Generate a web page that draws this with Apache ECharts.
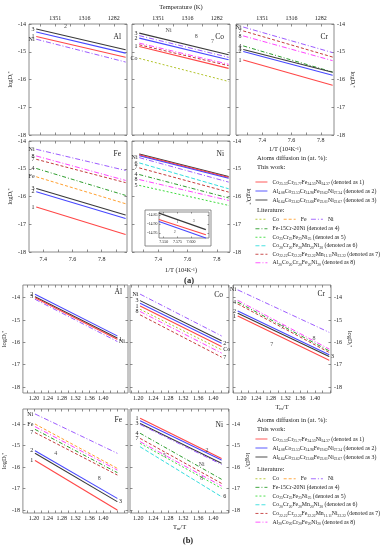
<!DOCTYPE html>
<html><head><meta charset="utf-8">
<script src="https://cdn.jsdelivr.net/npm/echarts@6/dist/echarts.min.js"></script>
<style>html,body{margin:0;padding:0;background:#fff}#c{width:383px;height:550px}</style>
</head><body><div id="c"></div>
<script>
// ===================== DATA =====================
// x extents of the measured Arrhenius lines
const xA = [7.27, 7.88];            // 1/T (10^4 K^-1), panel (a)
const xInset = [7.5414, 7.627];
const xB_AlFe = [1.203, 1.44];      // Tm/T, panel (b)
const xB_CoNi = [1.205, 1.422];
const xB_Cr = [1.191, 1.438];

// tick label values
const aXLabels = [7.4, 7.6, 7.8];
const aTempLabels = [7.4, 7.6, 7.8];          // shown as T = 1e4/x -> 1351, 1316, 1282
const yLabels = [-18, -17, -16, -15, -14];
const bXLabels = [1.20, 1.24, 1.28, 1.32, 1.36, 1.40];
const insetXLabels = [7.55, 7.575, 7.6];
const insetYLabels = [-14.95, -14.9, -14.85];

// ---- (a) Al ----
const aAlKeys  = ['w3', 'w2', 'w1', 'Ni'];
const aAlStart = [-14.18, -14.29, -14.45, -14.55];
const aAlEnd   = [-14.93, -15.05, -15.20, -15.37];
const aAlLeft  = ['3', '', '1', 'Ni'];
const aAlNotes = [['2', 7.47, -14.10]];
// ---- (a) Co ----
const aCoKeys  = ['w3', 'Ni', 'w2', 'l8', 'l7', 'w1', 'Co'];
const aCoStart = [-14.33, -14.42, -14.51, -14.69, -14.75, -14.81, -15.24];
const aCoEnd   = [-15.11, -15.20, -15.29, -15.45, -15.50, -15.60, -16.07];
const aCoLeft  = ['3', '', '2', '', '', '1', 'Co'];
const aCoNotes = [['Ni', 7.47, -14.22], ['8', 7.66, -14.45], ['7', 7.77, -14.62]];
// ---- (a) Cr ----
const aCrKeys  = ['Ni', 'l7', 'l8', 'l4', 'w3', 'w2', 'w1'];
const aCrStart = [-14.11, -14.25, -14.43, -14.79, -14.92, -14.99, -15.30];
const aCrEnd   = [-15.03, -15.19, -15.32, -15.73, -15.74, -15.85, -16.21];
const aCrLeft  = ['Ni', '7', '8', '4', '3', '2', '1'];
// ---- (a) Fe ----
const aFeKeys  = ['Ni', 'l8', 'l7', 'l4', 'Fe', 'w3', 'w2', 'w1'];
const aFeStart = [-14.30, -14.54, -14.66, -14.99, -15.29, -15.71, -15.83, -16.38];
const aFeEnd   = [-15.06, -15.42, -15.50, -15.96, -16.26, -16.67, -16.79, -17.37];
const aFeLeft  = ['Ni', '8', '7', '4', 'Fe', '3', '2', '1'];
// ---- (a) Ni ----
const aNiKeys  = ['w3', 'w1', 'w2', 'Ni', 'l6', 'l7', 'l4', 'l8', 'l5'];
const aNiStart = [-14.47, -14.50, -14.53, -14.60, -14.79, -14.97, -15.21, -15.39, -15.60];
const aNiEnd   = [-15.28, -15.31, -15.34, -15.48, -15.72, -15.84, -16.05, -16.14, -16.32];
const aNiLeft  = ['', '', '', 'Ni', '6', '7', '4', '8', '5'];
// ---- (a) Ni inset ----
const inKeys  = ['w3', 'w1', 'w2'];
const inStart = [-14.841, -14.875, -14.886];
const inEnd   = [-14.930, -14.958, -14.975];
const inNotes = [['3', 7.605, -14.885], ['1', 7.575, -14.888], ['2', 7.57, -14.94]];

// ---- (b) Al ----
const bAlKeys  = ['w2', 'w3', 'w1', 'Ni'];
const bAlStart = [-13.84, -13.96, -14.00, -14.07];
const bAlEnd   = [-15.71, -15.81, -15.86, -15.96];
const bAlLeft  = ['2', '3', '', ''];
const bAlRight = ['', '', '1', 'Ni'];
// ---- (b) Co ----
const bCoKeys  = ['Ni', 'w3', 'w2', 'w1', 'Co', 'l8', 'l7'];
const bCoStart = [-13.84, -14.13, -14.25, -14.37, -14.52, -14.62, -14.77];
const bCoEnd   = [-15.71, -15.93, -16.04, -16.19, -16.33, -16.48, -16.66];
const bCoLeft  = ['Ni', '3', '', '1', '', '8', ''];
const bCoRight = ['', '', '2', '', 'Co', '', '7'];
// ---- (b) Cr ----
const bCrKeys  = ['Ni', 'l8', 'l4', 'l7', 'w2', 'w3', 'w1'];
const bCrStart = [-13.65, -14.12, -14.20, -14.28, -14.60, -14.70, -14.82];
const bCrEnd   = [-15.55, -16.30, -16.38, -16.45, -16.56, -16.63, -16.80];
const bCrLeft  = ['Ni', '', '4', '', '2', '', '1'];
const bCrRight = ['', '', '', '', '', '3', ''];
const bCrNotes = [['8', 1.397, -15.81], ['7', 1.311, -15.32], ['7', 1.283, -16.11]];
// ---- (b) Fe ----
const bFeKeys  = ['Ni', 'Fe', 'l8', 'l4', 'l7', 'w2', 'w3', 'w1'];
const bFeStart = [-13.53, -14.00, -14.12, -14.25, -14.40, -15.24, -15.36, -15.70];
const bFeEnd   = [-15.36, -16.06, -16.14, -16.26, -16.37, -17.46, -17.61, -18.00];
const bFeLeft  = ['Ni', 'Fe', '', '', '7', '2', '', '1'];
const bFeRight = ['', '', '', '', '', '', '3', ''];
const bFeNotes = [['4', 1.263, -15.36], ['8', 1.388, -16.53]];
// ---- (b) Ni ----
const bNiKeys  = ['w1', 'w2', 'w3', 'Ni', 'l4', 'l7', 'l8', 'l5', 'l6'];
const bNiStart = [-13.73, -13.85, -13.97, -14.02, -14.43, -14.67, -14.82, -14.90, -15.06];
const bNiEnd   = [-15.60, -15.67, -15.83, -15.88, -16.57, -16.76, -16.88, -16.99, -17.38];
const bNiLeft  = ['1', '', '3', '', '4', '7', '', '', ''];
const bNiRight = ['', '', '', '', '', '', '', '', '6'];
const bNiNotes = [['2', 1.383, -15.21], ['Ni', 1.369, -15.90], ['8', 1.369, -16.53], ['5', 1.27, -15.44]];

// ===================== STYLE =====================
const FONT = '"Liberation Serif","DejaVu Serif",serif';
const TXT = '#222';
const FRAME = '#707070';
const STY = {
  w1: { color: '#ff4747', type: 'solid', width: 1.1 },
  w2: { color: '#4747ff', type: 'solid', width: 1.1 },
  w3: { color: '#3a3a3a', type: 'solid', width: 1.1 },
  Co: { color: '#b3c42c', type: [2, 2], width: 1 },
  Fe: { color: '#ffa030', type: [3, 2], width: 1 },
  Ni: { color: '#9d5cff', type: [5, 2, 1, 2], width: 1 },
  l4: { color: '#2e9e2e', type: [4, 2, 1, 2], width: 1 },
  l5: { color: '#3ddc3d', type: [2, 2], width: 1 },
  l6: { color: '#35dede', type: [4, 2], width: 1 },
  l7: { color: '#c43c3c', type: [3, 2], width: 1 },
  l8: { color: '#ff45ff', type: [5, 2, 1, 2], width: 1 }
};
const RICH = {
  m: { fontSize: 5.8, fontFamily: FONT, color: TXT },
  s: { fontSize: 3.7, fontFamily: FONT, color: TXT, verticalAlign: 'bottom' },
  p: { fontSize: 4.5, fontFamily: FONT, color: TXT, verticalAlign: 'top' }
};
function chem(parts, tail) {
  return parts.map(([e, n]) => '{m|' + e + '}' + (n ? '{s|' + n + '}' : '')).join('') + (tail ? '{m| ' + tail + '}' : '');
}
const LEG = {
  w1: chem([['Co', '25.33'], ['Cr', '25.77'], ['Fe', '24.53'], ['Ni', '24.37']], '(denoted as 1)'),
  w2: chem([['Al', '4.08'], ['Co', '23.53'], ['Cr', '24.96'], ['Fe', '19.62'], ['Ni', '27.34']], '(denoted as 2)'),
  w3: chem([['Al', '6.64'], ['Co', '23.62'], ['Cr', '23.66'], ['Fe', '23.01'], ['Ni', '22.67']], '(denoted as 3)'),
  Co: '{m|Co}', Fe: '{m|Fe}', Ni: '{m|Ni}',
  l4: '{m|Fe-15Cr-20Ni (denoted as 4)}',
  l5: chem([['Co', '25'], ['Cr', '25'], ['Fe', '25'], ['Ni', '25']], '(denoted as 5)'),
  l6: chem([['Co', '20'], ['Cr', '20'], ['Fe', '20'], ['Mn', '20'], ['Ni', '20']], '(denoted as 6)'),
  l7: chem([['Co', '22.22'], ['Cr', '22.22'], ['Fe', '22.22'], ['Mn', '11.11'], ['Ni', '22.22']], '(denoted as 7)'),
  l8: chem([['Al', '20'], ['Co', '20'], ['Cr', '20'], ['Fe', '20'], ['Ni', '20']], '(denoted as 8)')
};
const LOGD = '{m|logD}{s|i}{p|*}';
const INVT = '{m|1/T (10}{p|4}{m|K}{p|-1}{m|)}';
const TMT = '{m|T}{s|m}{m|/T}';

const grid = [], xAxis = [], yAxis = [], series = [], graphic = [];

function steps(a, b, s) { const r = []; for (let v = a; v <= b + 1e-9; v += s) r.push(+v.toFixed(4)); return r; }
const tickStyle = { show: true, inside: true, length: 2.5, lineStyle: { color: FRAME, width: 0.8 } };
function lab(show, vals, fmt, margin, size) {
  return { show: show, customValues: vals, formatter: fmt, fontSize: size || 6, fontFamily: FONT, color: TXT, margin: margin == null ? 3 : margin };
}
function nameStyle() { return { fontSize: 6.5, fontFamily: FONT, color: TXT, rich: { m: { fontSize: 6.5, fontFamily: FONT, color: TXT }, s: { fontSize: 4.5, fontFamily: FONT, color: TXT, verticalAlign: 'bottom' }, p: { fontSize: 4.5, fontFamily: FONT, color: TXT, verticalAlign: 'top' } } }; }

function addPanel(p) {
  const gi = grid.length;
  const z = p.z || 0;
  const fs = p.fontSize || 6;
  grid.push({ left: p.box[0], top: p.box[1], width: p.box[2], height: p.box[3], show: true, borderColor: FRAME, borderWidth: 0.8, z: z });
  const xb = xAxis.length;
  const bx = p.bottomX || p.x;
  xAxis.push({
    gridIndex: gi, type: 'value', position: 'bottom', min: bx[0], max: bx[1], z: z,
    splitLine: { show: false }, axisLine: { show: false },
    axisTick: Object.assign({}, tickStyle, { customValues: p.xTicks, length: p.tickLen || 2.5 }),
    axisLabel: lab(!!p.xLab, p.xLab, p.xFmt, p.xMargin, fs),
    name: p.xName || '', nameLocation: 'middle', nameGap: p.xNameGap || 12, nameTextStyle: nameStyle()
  });
  const top = p.top || p.x;
  xAxis.push({
    gridIndex: gi, type: 'value', position: 'top', min: top[0], max: top[1], z: z,
    splitLine: { show: false }, axisLine: { show: false },
    axisTick: Object.assign({}, tickStyle, { customValues: p.topTicks || p.xTicks, length: p.tickLen || 2.5 }),
    axisLabel: lab(!!p.topLab, p.topLab, v => String(Math.round(1e4 / v)), 3, fs),
    name: p.topName || '', nameLocation: 'middle', nameGap: 13, nameTextStyle: nameStyle()
  });
  // series follow the axis whose range is p.x
  const xData = p.bottomX ? xb + 1 : xb;
  const yl = yAxis.length;
  ['left', 'right'].forEach(side => {
    const shown = p.ySide === side;
    yAxis.push({
      gridIndex: gi, type: 'value', position: side, min: p.y[0], max: p.y[1], z: z,
      splitLine: { show: false }, axisLine: { show: false },
      axisTick: Object.assign({}, tickStyle, { customValues: p.yTicks, length: p.tickLen || 2.5 }),
      axisLabel: lab(shown, p.yLab, p.yFmt, p.yMargin, fs),
      name: shown && p.yName ? p.yName : '', nameLocation: 'middle',
      nameGap: p.yNameGap || 14, nameRotate: side === 'left' ? 90 : -90, nameTextStyle: nameStyle()
    });
  });
  const labStyle = (t, pos) => ({ show: true, position: pos, distance: 1.5, formatter: t, fontSize: fs, fontFamily: FONT, color: TXT });
  p.keys.forEach((k, i) => {
    const s = STY[k];
    const d0 = { value: [p.xs[0], p.start[i]] };
    const d1 = { value: [p.xs[1], p.end[i]] };
    if (p.left && p.left[i]) d0.label = labStyle(p.left[i], 'left');
    if (p.right && p.right[i]) d1.label = labStyle(p.right[i], 'right');
    series.push({
      type: 'line', name: 'p' + gi + '_' + k, xAxisIndex: xData, yAxisIndex: yl,
      data: [d0, d1], symbol: 'circle', symbolSize: 0.5, showSymbol: true,
      itemStyle: { color: s.color }, lineStyle: { color: s.color, type: s.type, width: s.width },
      label: { show: false }, silent: true, animation: false, z: z + 2, clip: false
    });
  });
  if (p.notes && p.notes.length) {
    series.push({
      type: 'scatter', xAxisIndex: xData, yAxisIndex: yl, symbol: 'circle', symbolSize: 1,
      itemStyle: { color: 'rgba(0,0,0,0)' }, silent: true, animation: false, z: z + 3,
      data: p.notes.map(n => ({ value: [n[1], n[2]], label: { show: true, position: 'inside', formatter: n[0], fontSize: fs, fontFamily: FONT, color: TXT } }))
    });
  }
  if (p.title) {
    const g = grid[gi];
    graphic.push({ type: 'text', x: g.left + g.width - 6, y: g.top + (p.titleDy || 13), z: 10,
      style: { text: p.title, font: '7.5px ' + FONT, fill: TXT, align: 'right', verticalAlign: 'middle' } });
  }
  return gi;
}

// ---------- panel (a) ----------
const aX = [7.22, 7.89];
const aXT = steps(7.3, 7.8, 0.1);
const aY = [-18, -14];
const common_a = { x: aX, xTicks: aXT, top: aX, topTicks: aXT, y: aY, yTicks: yLabels, yLab: yLabels, xs: xA };
addPanel(Object.assign({}, common_a, { box: [29, 24, 98, 111], ySide: 'left', yName: LOGD, yNameGap: 12, topLab: aTempLabels,
  keys: aAlKeys, start: aAlStart, end: aAlEnd, left: aAlLeft, notes: aAlNotes, title: 'Al' }));
addPanel(Object.assign({}, common_a, { box: [132, 24, 98, 111], ySide: null, topLab: aTempLabels, topName: 'Temperature (K)',
  keys: aCoKeys, start: aCoStart, end: aCoEnd, left: aCoLeft, notes: aCoNotes, title: 'Co' }));
addPanel(Object.assign({}, common_a, { box: [236, 24, 98, 111], ySide: 'right', yName: LOGD, yNameGap: 12, topLab: aTempLabels,
  xLab: aXLabels, xFmt: v => v.toFixed(1), xName: INVT, xNameGap: 11, xMargin: 2,
  keys: aCrKeys, start: aCrStart, end: aCrEnd, left: aCrLeft, title: 'Cr' }));
addPanel(Object.assign({}, common_a, { box: [29, 141, 98, 111], ySide: 'left', yName: LOGD, yNameGap: 12,
  bottomX: [7.302, 7.973], xTicks: steps(7.4, 7.9, 0.1),
  xLab: aXLabels, xFmt: v => v.toFixed(1), xMargin: 4,
  keys: aFeKeys, start: aFeStart, end: aFeEnd, left: aFeLeft, title: 'Fe' }));
addPanel(Object.assign({}, common_a, { box: [132, 141, 98, 111], ySide: 'right', yName: LOGD, yNameGap: 12,
  xLab: aXLabels, xFmt: v => v.toFixed(1), xName: INVT, xNameGap: 15, xMargin: 4,
  keys: aNiKeys, start: aNiStart, end: aNiEnd, left: aNiLeft, title: 'Ni' }));
// inset
graphic.push({ type: 'rect', shape: { x: 145, y: 210, width: 66, height: 36 }, z: 4,
  style: { fill: '#fff', stroke: FRAME, lineWidth: 0.8 } });
addPanel({ box: [159, 212, 50, 26], x: [7.5414, 7.6328], xTicks: insetXLabels, y: [-14.975, -14.835], yTicks: insetYLabels,
  yLab: insetYLabels, yFmt: v => v.toFixed(2), ySide: 'left', yMargin: 1.5, xLab: insetXLabels, xFmt: v => v.toFixed(3), xMargin: 1.5,
  tickLen: 1.5, fontSize: 4,
  xs: xInset, keys: inKeys, start: inStart, end: inEnd, notes: inNotes, z: 5 });

// ---------- panel (b) ----------
const bYt = [-18.27, -13.43];
const bYb = [-18.14, -13.30];
const bAlX = [1.168, 1.471], bCoX = [1.178, 1.442], bCrX = [1.178, 1.443];
const bFmt = v => v.toFixed(2);
addPanel({ box: [19, 285, 109, 108], x: bAlX, xTicks: steps(1.18, 1.46, 0.02), xLab: bXLabels, xFmt: bFmt, xMargin: 2,
  y: bYt, yTicks: yLabels, yLab: yLabels, ySide: 'left', yName: LOGD, yNameGap: 11,
  xs: xB_AlFe, keys: bAlKeys, start: bAlStart, end: bAlEnd, left: bAlLeft, right: bAlRight, title: 'Al', titleDy: 7 });
addPanel({ box: [130, 285, 99, 108], x: bCoX, xTicks: steps(1.18, 1.44, 0.02), xLab: bXLabels, xFmt: bFmt, xMargin: 2,
  y: bYt, yTicks: yLabels, ySide: null,
  xs: xB_CoNi, keys: bCoKeys, start: bCoStart, end: bCoEnd, left: bCoLeft, right: bCoRight, title: 'Co', titleDy: 10 });
addPanel({ box: [233, 285, 98, 108], x: bCrX, xTicks: steps(1.18, 1.44, 0.02), xLab: bXLabels, xFmt: bFmt, xMargin: 2,
  xName: TMT, xNameGap: 11,
  y: bYt, yTicks: yLabels, yLab: yLabels, ySide: 'right', yName: LOGD, yNameGap: 12,
  xs: xB_Cr, keys: bCrKeys, start: bCrStart, end: bCrEnd, left: bCrLeft, right: bCrRight, notes: bCrNotes, title: 'Cr', titleDy: 9 });
addPanel({ box: [19, 409, 109, 104], x: bAlX, xTicks: steps(1.18, 1.46, 0.02), xLab: bXLabels, xFmt: bFmt, xMargin: 2,
  y: bYb, yTicks: yLabels, yLab: yLabels, ySide: 'left', yName: LOGD, yNameGap: 11,
  xs: xB_AlFe, keys: bFeKeys, start: bFeStart, end: bFeEnd, left: bFeLeft, right: bFeRight, notes: bFeNotes, title: 'Fe', titleDy: 11 });
addPanel({ box: [130, 409, 99, 104], x: bCoX, xTicks: steps(1.18, 1.44, 0.02), xLab: bXLabels, xFmt: bFmt, xMargin: 2,
  xName: TMT, xNameGap: 11,
  y: bYb, yTicks: yLabels, yLab: yLabels, ySide: 'right', yName: LOGD, yNameGap: 12,
  xs: xB_CoNi, keys: bNiKeys, start: bNiStart, end: bNiEnd, left: bNiLeft, right: bNiRight, notes: bNiNotes, title: 'Ni', titleDy: 16 });

// ---------- legend dummy series ----------
Object.keys(STY).forEach(k => {
  const s = STY[k];
  series.push({ type: 'line', name: k, xAxisIndex: 0, yAxisIndex: 0, data: [], symbol: 'none',
    lineStyle: { color: s.color, type: s.type, width: 1 }, itemStyle: { color: s.color } });
});
function legendBlock(keys, left, top, orient, gap, lh) {
  return { data: keys, orient: orient, left: left, top: top, itemWidth: 12, itemHeight: 5, itemGap: gap, padding: 0,
    selectedMode: false, formatter: n => LEG[n],
    itemStyle: { opacity: 0, borderWidth: 0 }, lineStyle: { width: 0.9 },
    textStyle: { fontSize: 5.8, fontFamily: FONT, color: TXT, lineHeight: lh, rich: RICH } };
}
const legend = [
  legendBlock(['w1', 'w2', 'w3'], 255, 177.5, 'vertical', 0, 9),
  legendBlock(['Co', 'Fe', 'Ni'], 255, 215, 'horizontal', 4, 8.5),
  legendBlock(['l4', 'l5', 'l6', 'l7', 'l8'], 255, 224.5, 'vertical', 0, 8.5),
  legendBlock(['w1', 'w2', 'w3'], 255, 434.5, 'vertical', 0, 9),
  legendBlock(['Co', 'Fe', 'Ni'], 255, 474.5, 'horizontal', 4, 8.5),
  legendBlock(['l4', 'l5', 'l6', 'l7', 'l8'], 255, 483, 'vertical', 0, 8.7)
];
function txt(t, x, y, size, extra) {
  graphic.push({ type: 'text', x: x, y: y, z: 10, style: Object.assign({ text: t, font: size + 'px ' + FONT, fill: TXT, align: 'left', verticalAlign: 'middle' }, extra || {}) });
}
txt('Atoms diffusion in (at. %):', 257, 158, 6.5);
txt('This work:', 257, 167.5, 6.5);
txt('Literature:', 257, 210, 6.5);
txt('Atoms diffusion in (at. %):', 257, 420.5, 6.5);
txt('This work:', 257, 429.5, 6.5);
txt('Literature:', 257, 469, 6.5);
graphic.push({ type: 'text', x: 189, y: 281, z: 10, style: { text: '(a)', font: 'bold 8.5px ' + FONT, fill: TXT, align: 'center', verticalAlign: 'middle' } });
graphic.push({ type: 'text', x: 188, y: 541, z: 10, style: { text: '(b)', font: 'bold 8.5px ' + FONT, fill: TXT, align: 'center', verticalAlign: 'middle' } });

const chart = echarts.init(document.getElementById('c'), null, { renderer: 'canvas' });
chart.setOption({ animation: false, backgroundColor: '#fff', grid, xAxis, yAxis, series, legend, graphic });
</script></body></html>
